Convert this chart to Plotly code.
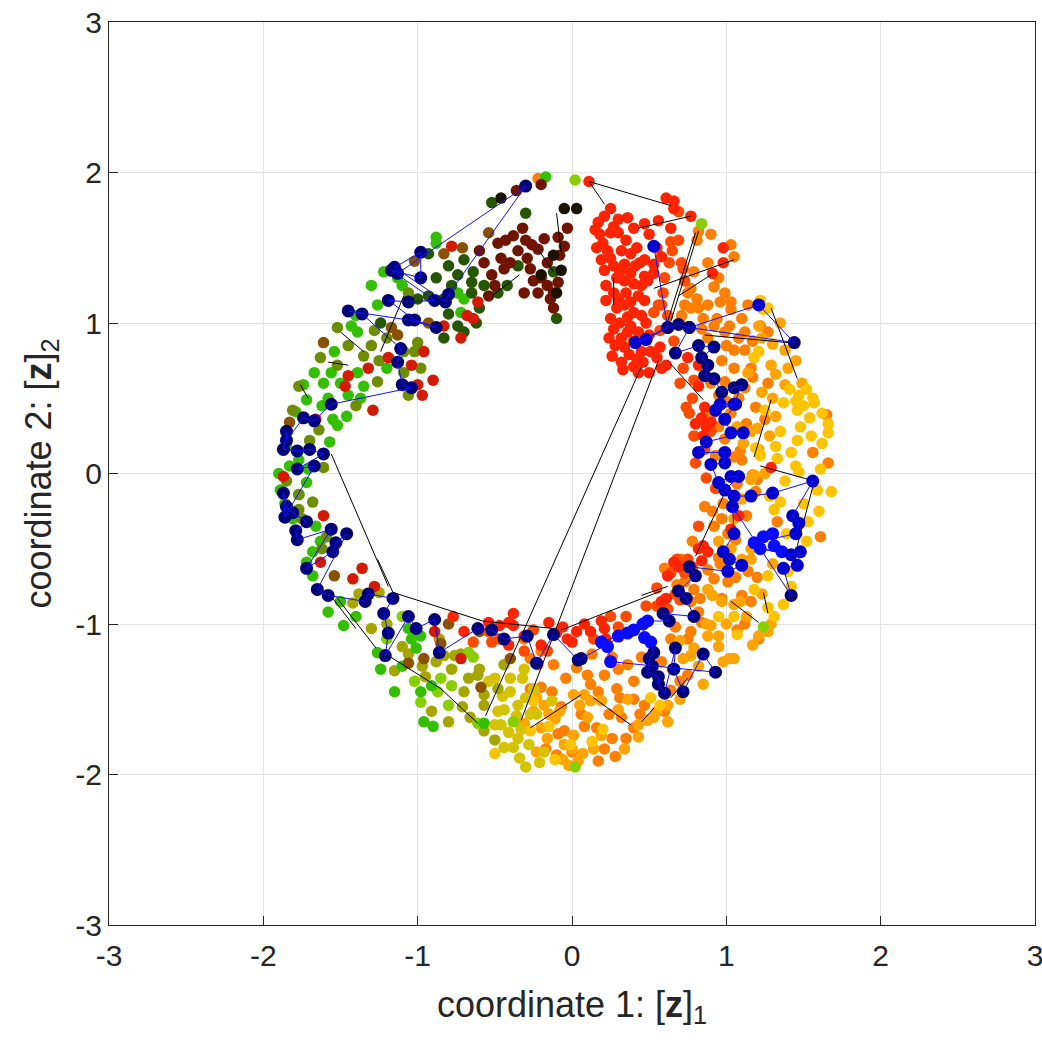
import plotly.graph_objects as go

# coloured latent points, grouped by colour class (x, y)
red_pts = [(0.11,1.94),(0.25,1.76),(0.21,1.71),(0.17,1.67),(0.30,1.69),(0.27,1.64),(0.18,1.59),(0.25,1.60),
    (0.30,1.60),(0.40,1.63),(0.47,1.66),(0.50,1.59),(0.61,1.83),(0.66,1.81),(0.66,1.76),(0.77,1.71),(0.64,1.63),
    (0.98,1.50),(0.91,1.33),(0.98,1.40),(0.58,1.44),(0.53,1.39),(0.47,1.42),(0.38,1.46),(0.32,1.48),(0.23,1.48),
    (0.25,1.43),(0.21,1.35),(0.27,1.38),(0.34,1.39),(0.41,1.38),(0.47,1.31),(0.53,1.33),(0.29,1.30),(0.34,1.28),
    (0.40,1.26),(0.45,1.25),(0.49,1.28),(0.27,1.20),(0.35,1.20),(0.43,1.18),(0.47,1.15),(0.29,1.10),(0.34,1.12),
    (0.40,1.07),(0.25,1.03),(0.31,1.00),(0.36,1.04),(0.27,0.96),(0.32,0.90),(0.36,0.94),(0.43,0.94),(0.50,0.92),
    (0.34,0.84),(0.37,0.79),(0.32,0.74),(0.33,0.69),(0.40,0.71),(0.46,0.74),(0.45,0.81),(0.51,0.81),(0.43,0.67),
    (0.58,0.70),(0.61,0.72),(0.82,0.58),(0.82,0.72),(0.75,0.77),(0.84,0.37),(0.87,0.31),(0.85,0.25),(0.80,0.33),
    (0.90,0.34),(1.29,0.04),(1.03,-0.37),(1.08,-0.28),(0.82,-0.50),(0.85,-0.48),(0.88,-0.52),(0.66,-0.59),
    (0.62,-0.68),(0.61,-0.83),(0.58,-0.85),(0.69,-0.62),(0.84,-0.58),(0.03,-1.05),(0.12,-1.05),(0.21,-1.03),
    (0.22,-1.10),(-0.03,-1.10),(0.00,-1.12),(-0.77,-0.95),(-0.70,-1.05),(-0.54,-0.99),(-0.47,-1.01),
    (-0.41,-0.99),(-0.38,-0.93),(-0.38,-1.01),(-0.41,-1.14),(-0.31,-1.08),(-0.20,-1.14),(-0.10,-1.06),
    (-0.15,-0.99),(0.19,-0.98),(0.08,-1.00),(-0.06,-1.02),(0.20,1.53),(0.15,1.62),(0.35,1.55),(0.42,1.50),
    (0.38,1.33),(0.22,1.25),(0.30,1.16),(0.45,1.05),(0.38,0.98),(0.28,0.85),(0.40,0.88),(0.26,0.78),(0.50,0.67),
    (0.55,0.77),(0.44,1.40),(0.55,1.50),(0.36,1.70),(0.56,1.68),(0.22,1.15),(0.48,1.00),(0.86,0.44),
    (0.19,1.42),(0.31,1.34),(0.38,1.14),(0.24,0.90),(0.42,0.76),(0.57,0.84),(0.16,1.50)]
darkred_mix_pts = [(-0.83,0.98),(-0.72,0.90),(-0.96,0.81),(-1.19,0.77),(-1.32,0.70),(-1.45,0.65),(-1.04,0.72),
    (-1.00,0.59),(-0.97,0.52),(-0.64,1.03),(-0.61,1.14),(-0.78,1.51),(-1.87,-0.02),(-1.61,-0.28),(-1.63,-0.59),
    (-1.42,-0.70),(-1.66,0.36),(-1.29,0.42),(-1.28,-0.75),(-1.47,0.58),(-0.89,-1.05),(-0.72,-1.23),
    (-0.68,1.05),(-0.90,0.62),(-1.36,-0.63)]
redorange_pts = [(0.69,1.74),(0.69,1.55),(0.64,1.54),(0.65,1.48),(0.71,1.40),(0.72,1.36),(0.73,1.28),(0.56,1.12),
    (0.59,1.20),(0.53,1.07),(0.58,1.12),(0.62,1.05),(-0.64,-1.12),(-0.52,-1.12),(-0.47,-1.10),(-0.54,-1.05),
    (-0.31,-1.18),(-0.16,-1.18),(0.68,-0.57),(0.71,-0.60),(0.75,-0.57),(0.73,-0.66),(0.67,-0.80),(0.70,-0.84),
    (0.62,-0.90),(0.55,-0.88),(0.74,0.44),(0.79,0.25),(0.86,0.16),(0.80,0.07),(0.87,-0.03),(0.93,-0.10),
    (0.90,0.28),(0.78,0.50),(0.79,0.62),(0.70,0.60),(0.14,-1.10),(0.30,-1.02),(-0.25,-1.04),(0.60,1.30),
    (0.63,1.40),(0.57,0.95),(0.66,0.88),(0.72,0.70),(0.76,0.40),(0.82,-0.35),(0.78,-0.62),(0.64,-0.66),
    (0.55,-0.76),(0.48,-0.88),(0.35,-0.95),(0.25,-0.95)]
orange_pts = [(0.82,1.61),(0.90,1.59),(1.03,1.52),(1.05,1.44),(0.81,1.55),(0.77,1.23),(0.75,1.20),(0.81,1.16),
    (0.73,1.12),(0.77,1.10),(0.82,1.10),(0.85,1.03),(0.71,1.05),(0.70,1.00),(0.84,0.96),(0.94,1.03),(0.96,1.14),
    (0.99,1.20),(1.03,1.14),(1.03,1.09),(1.14,1.12),(1.22,0.98),(1.27,0.94),(1.12,0.94),(1.08,0.90),(1.12,0.82),
    (1.05,0.82),(0.99,0.94),(0.97,0.75),(1.05,0.70),(1.16,0.70),(1.27,0.60),(1.17,0.64),(1.12,0.57),(0.99,0.61),
    (0.95,0.52),(1.00,0.48),(1.03,0.40),(0.90,0.38),(0.95,0.31),(0.99,0.23),(1.05,0.11),(1.09,0.15),(1.10,0.09),
    (1.19,0.44),(1.25,0.36),(1.19,-0.12),(1.17,-0.01),(1.07,-0.07),(1.20,-0.04),(1.33,-0.32),(1.61,-0.42),
    (1.06,-0.44),(0.92,-0.35),(0.95,-0.56),(0.96,-0.60),(0.71,-0.57),(0.73,-0.72),(0.68,-0.74),(0.79,-0.77),
    (0.83,-0.83),(0.77,-0.85),(0.82,-0.92),(0.84,-0.99),(0.97,-0.83),(1.07,-1.04),(1.56,0.14),(1.66,0.07),
    (1.65,0.39),(-0.04,-1.36),(0.03,-1.29),(0.10,-1.34),(0.17,-1.45),(0.21,-1.34),(0.29,-1.43),(0.31,-1.49),
    (0.40,-1.38),(0.47,-1.54),(0.64,-1.44),(0.44,-1.60),(0.40,-1.69),(0.35,-1.76),(0.24,-1.60),(0.16,-1.69),
    (0.26,-1.76),(0.21,-1.83),(-0.05,-1.71),(0.75,-1.34),(0.75,-1.10),(0.64,-1.10),(0.67,-1.02),(1.01,-0.72),
    (1.06,-0.69),(1.14,-0.65),(1.10,-0.81),(1.21,-1.10),(1.20,-0.69),(-0.31,-1.10),(-0.20,-1.18),(-0.22,-1.27),
    (-0.27,-1.23),(-0.12,-1.27),(-0.27,-1.43),(-0.20,-1.42),(-0.09,-1.73),(-0.17,-1.83),(-0.10,-1.87),
    (0.00,-1.85),(-0.22,1.96),(0.92,0.98),(0.88,0.90),(0.58,-1.25),(0.36,-1.27),(0.30,-1.30),(0.13,-1.20),
    (0.86,-0.22),(0.91,-0.25),(0.97,-0.30),(0.78,-0.45),(0.60,-0.63),(0.88,1.40),(0.92,1.24),(0.88,1.12),
    (0.79,1.34),(1.10,1.03),(1.17,0.88),(1.02,0.98),(0.90,0.60),(1.08,0.50),(0.93,0.12),(1.13,-0.28),
    (1.01,-0.40),(0.88,-0.64),(0.92,-0.70),(0.77,-1.05),(0.60,-1.58),(0.32,-1.62),(0.12,-1.40),(0.06,-1.60),
    (0.28,-1.88),(0.17,-1.91),(-0.13,-1.45),(0.45,-1.22),(0.40,-1.50),(0.70,-1.38),(1.16,-0.85),(1.12,-1.00),
    (0.95,1.30),(1.00,0.85),(1.13,0.33),(0.98,-0.20),(0.26,-1.22),(0.08,-1.68),(-0.07,-1.55)]
amber_pts = [(1.21,0.98),(1.23,0.90),(1.30,0.86),(1.38,0.82),(1.23,0.54),(1.14,0.67),(1.29,0.72),(1.38,0.59),
    (1.49,0.60),(1.32,0.66),(0.01,-1.47),(0.08,-1.47),(0.12,-1.51),(0.05,-1.54),(0.19,-1.51),(0.55,-1.58),
    (0.62,-1.54),(0.43,-1.67),(0.49,-1.64),(0.53,-1.62),(0.19,-1.74),(0.01,-1.74),(0.14,-1.83),(0.07,-1.86),
    (-0.02,-1.94),(0.04,-1.91),(0.72,-1.23),(0.77,-1.21),(0.79,-1.16),(0.70,-1.11),(0.87,-1.00),(0.90,-1.01),
    (0.88,-1.08),(0.95,-1.08),(1.00,-1.00),(0.98,-1.25),(1.02,-1.23),(1.05,-1.23),(0.97,-0.85),(0.91,-0.81),
    (0.88,-0.77),(1.09,-0.85),(1.05,-0.87),(1.17,-1.14),(1.21,-1.08),(1.27,-1.05),(1.29,-1.00),(1.10,-0.17),
    (1.16,-0.04),(1.18,-0.01),(1.32,0.38),(1.21,0.16),(1.07,0.31),(1.11,0.20),(1.16,0.28),(1.16,-0.57),
    (1.10,-0.57),(1.03,-0.50),(0.95,-0.45),(1.16,-0.50),(1.05,-0.30),(-0.23,-1.49),(-0.18,-1.54),(-0.15,-1.60),
    (-0.11,-1.63),(-0.20,-1.69),(-0.16,-1.76),(-0.31,-1.66),(-0.25,-1.58),(0.00,-1.83),(-0.06,-1.90),
    (-0.23,-1.85),(0.30,-1.57),(0.36,-1.50),(0.10,-1.62),(0.65,-1.30),(0.82,-1.28),(1.13,-0.95),(1.30,0.50),
    (1.35,1.00),(1.40,0.70),(1.45,0.75),(1.20,0.30),(1.28,0.25),(1.25,0.00),(1.30,-0.60),(1.23,-0.80),
    (0.34,-1.83),(0.43,-1.75),(0.62,-1.65),(0.70,-1.50),(0.95,-1.15),(0.85,-1.40),(-0.08,-1.58),(-0.05,-1.80)]
gold_pts = [(1.37,0.47),(1.46,0.42),(1.57,0.47),(1.66,0.33),(1.66,0.27),(1.46,0.22),(1.42,0.14),(1.61,0.03),
    (1.68,-0.12),(1.59,-0.11),(1.47,0.01),(1.35,-0.19),(1.31,-0.24),(1.53,-0.32),(1.42,-0.75),(1.27,-0.68),
    (1.18,-0.77),(1.27,-0.89),(1.31,-0.95),(1.41,0.56),(1.47,0.52),(1.52,0.56),(1.56,0.50),(1.45,0.48),
    (1.54,0.37),(1.48,0.31),(1.25,0.42),(1.19,0.17),(1.32,0.18),(1.22,0.12),(1.22,1.15),(1.24,1.09),
    (1.27,1.10),(1.21,0.81),(1.18,0.77),(0.95,-0.95),(1.05,-0.95),(1.37,-0.87),(0.57,-1.54),(0.51,-1.49),
    (-0.01,-1.80),(0.13,-1.78),(0.20,-1.70),(1.07,-1.07),(-0.50,-1.86),(-0.25,-1.51),(-0.15,-1.68),
    (-0.27,-1.71),(-0.11,-1.90),(1.39,-0.40),(1.50,-0.20),(1.62,0.20),(1.35,0.28),(1.40,-0.65),(1.50,0.45),
    (1.62,0.40),(1.55,0.25),(1.60,-0.25),(1.52,-0.45),(1.45,0.05),(1.38,-0.05),(1.28,-0.15),(1.33,0.10)]
yellow_pts = [(-0.54,-1.38),(-0.50,-1.36),(-0.46,-1.67),(-0.50,-1.67),(-0.44,-1.82),(-0.44,-1.57),(-0.31,-1.30),
    (-0.32,-1.36),(-0.30,-1.49),(-0.36,-1.61),(-0.35,-1.76),(-0.38,-1.82),(-0.34,-1.89),(-0.25,-1.43),
    (-0.13,-1.51),(-0.35,-1.54),(-0.41,-1.72),(-0.28,-1.80),(-0.23,-1.60),(-0.40,-1.36),(-0.30,-1.95),
    (-0.21,-1.92),(-0.40,-1.45),(-0.45,-1.48),(-0.27,-1.60),(-0.18,-1.85),(-0.33,-1.70),(-0.48,-1.58)]
olive_pts = [(-1.38,-0.80),(-1.42,-0.86),(-1.25,-0.79),(-1.30,-1.03),(-1.15,-1.31),(-0.97,-1.28),(-0.91,-1.58),
    (-0.71,-1.55),(-0.67,-1.36),(-0.61,-1.34),(-0.57,-1.47),(-0.57,-1.71),(-0.50,-1.77),(-0.83,-1.21),
    (-0.76,-1.21),(-0.72,-1.20),(-0.48,-1.43),(-0.44,-1.27),(-0.60,-1.30),(-1.10,-1.15),(-1.06,-1.20),
    (-0.86,-1.10),(-0.57,-1.54),(-0.66,-1.62),(-0.78,-1.30),(-1.20,-1.00),(-0.95,-1.35),(-0.80,-1.65),
    (-0.70,-1.45),(-0.88,-1.25)]
olivegreen_pts = [(-1.06,1.20),(-1.00,0.87),(-1.02,0.81),(-1.52,0.97),(-1.45,0.85),(-1.30,0.85),(-1.63,0.77),
    (-1.26,0.61),(-1.09,0.67),(-1.06,0.52),(-1.09,0.81),(-1.77,0.58),(-1.81,0.42),(-1.64,0.29),(-1.68,-0.19),
    (-1.77,-0.24),(-1.59,-0.42),(-1.61,0.04),(-1.77,-0.14),(-1.20,0.90),(-1.35,0.78),(-1.52,0.72),(-0.98,0.70),
    (-1.62,-0.50),(-1.85,-0.05),(-1.70,0.22),(-1.40,0.45),(-1.25,0.75),(-1.28,0.95),(-1.75,-0.30)]
brown_pts = [(-1.54,-0.68),(-1.06,-1.26),(-0.96,-1.23),(-0.59,-1.42),(-1.02,1.41),(-0.71,1.50),(-0.83,1.46),
    (-0.54,1.60),(-1.61,0.87),(-1.13,0.92),(-1.17,0.97),(-1.83,0.34),(-0.40,-1.23),(-0.80,-1.00),(-0.85,-1.13),
    (-0.60,-1.05),(-0.93,1.00)]
yellowgreen_pts = [(-1.02,-1.38),(-0.85,-1.36),(-0.78,-1.41),(-0.87,-1.45),(-0.80,-1.54),(-0.64,-1.22),
    (-0.67,-1.19),(-0.61,-1.66),(-0.38,-1.65),(0.02,-1.95),(0.02,1.95),(0.84,1.66),(1.24,-1.02),(-1.20,-1.10),
    (-0.98,-1.52),(-1.10,-0.95)]
green_pts = [(-1.26,-1.19),(-1.24,-1.30),(-1.10,-1.28),(-1.15,-1.45),(-1.04,-1.10),(-0.98,-1.08),(-0.98,-1.45),
    (-0.91,-1.41),(-0.96,-1.65),(-0.90,-1.68),(-0.57,-1.66),(-1.01,-1.16),(-1.06,-1.03),(-1.48,-1.01),
    (-1.89,-0.11),(-1.77,-0.14),(-1.72,-0.06),(-1.81,-0.30),(-1.72,-0.59),(-1.68,-0.68),(-1.85,0.18),
    (-1.77,0.09),(-1.71,0.03),(-1.57,0.21),(-1.55,0.36),(-1.72,0.49),(-1.61,0.60),(-1.46,0.38),(-1.52,0.32),
    (-1.74,0.59),(-1.79,0.41),(-0.88,1.57),(-0.88,1.53),(-1.13,1.30),(-1.22,1.34),(-1.30,1.25),(-1.26,1.12),
    (-1.39,0.94),(-1.43,0.98),(-1.54,0.81),(-1.39,0.67),(-1.56,0.67),(-1.58,0.50),(-1.45,0.52),(-1.37,0.50),
    (-1.67,0.67),(-0.74,1.20),(-0.70,1.16),(-0.72,1.07),(-0.17,1.97),(-1.66,-0.35),(-1.63,-0.45),(-1.58,-0.92),
    (-1.86,-0.20),(-1.50,0.60),(-1.20,0.70),(-1.90,0.00),(-1.83,0.05),(-1.68,-0.52),(-1.50,-0.85),
    (-1.40,-0.95),(-1.62,0.45),(-1.35,0.58),(-1.10,1.25),(-1.40,1.05)]
darkgreen_pts = [(-0.52,1.80),(-0.30,1.73),(-0.65,1.27),(-0.57,1.25),(-0.48,1.20),(-0.64,1.34),(-0.35,1.38),
    (-0.88,1.30),(-0.93,1.46),(-0.93,1.18),(-1.24,1.00),(-0.83,0.90),(-0.83,1.16),(-0.74,1.32),(-0.10,1.03),
    (-0.12,1.34),(-0.70,0.94),(-0.65,1.20),(-1.00,1.16),(-0.74,0.98),(-0.60,1.10),(-0.80,1.06),(-0.80,1.38),
    (-0.70,1.42),(-0.62,1.00),(-0.78,1.25),(-0.42,1.25)]
darkred_pts = [(-0.36,1.88),(-0.20,1.92),(-0.03,1.63),(-0.05,1.51),(-0.32,1.63),(-0.48,1.53),(-0.38,1.58),
    (-0.43,1.55),(-0.22,1.49),(-0.09,1.57),(-0.16,1.40),(-0.29,1.43),(-0.40,1.40),(-0.46,1.43),(-0.57,1.40),
    (-0.52,1.32),(-0.44,1.36),(-0.27,1.36),(-0.16,1.25),(-0.22,1.20),(-0.31,1.20),(-0.14,1.16),(-0.12,1.10),
    (-0.54,1.18),(-0.09,1.27),(-0.20,1.30),(-0.26,1.52),(-0.60,1.48),(-0.35,1.48),(-0.25,1.28),(-0.08,1.45),
    (-0.18,1.56),(-0.50,1.25),(-0.30,1.55),(-0.12,1.20)]
black_pts = [(-0.46,1.83),(-0.05,1.76),(0.03,1.76),(-0.20,1.32),(-0.07,1.35),(-0.10,1.20),(-0.12,1.45)]

# black trajectory, pieces separated by None
black_path = [(0.11,1.94),(0.64,1.78),None,(0.11,1.94),(0.21,1.79),None,(0.43,1.63),(0.77,1.71),None,
    (0.82,1.61),(0.64,1.01),None,(0.80,1.60),(0.62,1.01),None,(0.53,1.23),(1.05,1.42),None,(0.69,1.18),
    (0.90,1.32),None,(0.27,1.30),(0.27,1.12),None,(1.29,1.10),(1.46,0.63),None,(0.86,0.92),(1.40,0.87),None,
    (0.45,0.71),(-0.56,-1.61),None,(0.56,0.75),(-0.33,-1.64),None,(0.62,0.75),(0.85,0.49),None,(1.29,0.49),
    (1.18,0.11),None,(1.22,0.05),(1.57,-0.05),(1.46,-0.48),None,(0.98,-0.15),(0.80,-0.55),None,(0.45,-0.81),
    (0.62,-0.75),None,(1.03,-0.85),(1.21,-0.99),None,(-0.07,-1.04),(0.58,-0.78),None,(1.24,-0.79),(1.27,-0.93),
    None,(0.14,-1.49),(0.38,-1.67),None,(0.45,-1.65),(0.53,-1.56),None,(0.64,-1.49),(0.75,-1.36),None,
    (-1.26,-0.57),(-1.16,-0.79),(-0.58,-0.98),(-0.12,-1.03),None,(-1.52,-0.83),(-1.27,-1.16),None,
    (-1.19,-1.21),(-0.85,-1.43),(-0.61,-1.66),None,(-0.27,-1.69),(0.06,-1.47),None,(-1.56,0.13),(-1.19,-0.75),
    None,(-1.55,-0.83),(-1.40,-1.03),None,(-0.10,1.73),(-0.07,1.47),None,(-0.22,1.49),(-0.12,1.34),None,
    (-0.52,1.18),(-0.34,1.32),None,(-1.09,1.18),(-1.24,0.81),None,(-1.50,0.94),(-1.35,0.81),None,(-1.58,0.74),
    (-1.45,0.72),None,(-1.76,0.59),(-1.71,0.50)]

# blue trajectory and its tone class (0 navy, 1 blue, 2 bright blue)
blue_path = [(0.53,1.51),(0.62,0.97),(0.48,0.89),(0.41,0.87),(0.62,0.97),(0.69,0.99),(0.76,0.97),(1.21,1.12),
    (1.44,0.87),(0.76,0.97),(0.67,0.80),(0.82,0.85),(0.92,0.84),(0.84,0.77),(0.88,0.72),(0.86,0.65),
    (0.92,0.63),(0.97,0.54),(1.05,0.57),(1.10,0.59),(1.05,0.46),(0.96,0.46),(0.93,0.42),(1.06,0.46),(0.99,0.36),
    (1.03,0.27),(1.11,0.27),(0.87,0.21),(0.82,0.14),(0.99,0.14),(0.99,0.07),(0.90,0.06),(0.95,-0.06),
    (1.03,-0.02),(1.08,-0.02),(0.99,-0.11),(1.05,-0.15),(1.16,-0.15),(1.30,-0.13),(1.56,-0.05),(1.43,-0.28),
    (1.47,-0.33),(1.45,-0.40),(1.18,-0.46),(1.24,-0.42),(1.30,-0.40),(1.31,-0.48),(1.36,-0.52),(1.22,-0.50),
    (1.42,-0.54),(1.48,-0.52),(1.46,-0.61),(1.37,-0.63),(1.42,-0.81),(1.04,-0.22),(1.05,-0.40),(0.98,-0.52),
    (1.02,-0.57),(1.10,-0.61),(1.01,-0.65),(0.76,-0.62),(0.80,-0.68),(0.69,-0.78),(0.74,-0.83),(0.79,-0.95),
    (0.59,-0.93),(0.63,-0.98),(0.49,-0.98),(0.40,-1.04),(0.46,-1.00),(0.47,-1.09),(0.51,-1.12),(0.53,-1.19),
    (0.50,-1.23),(0.49,-1.32),(0.56,-1.35),(0.56,-1.40),(0.60,-1.46),(0.67,-1.16),(0.66,-1.30),(0.72,-1.45),
    (0.85,-1.20),(0.93,-1.32),(0.52,-1.28),(0.25,-1.25),(0.23,-1.15),(0.19,-1.12),(0.30,-1.08),(0.36,-1.06),
    (0.06,-1.23),(0.04,-1.24),(-0.12,-1.07),(-0.23,-1.26),(-0.29,-1.08),(-0.44,-1.10),(-0.52,-1.04),
    (-0.61,-1.03),(-0.86,-1.19),(-0.89,-0.97),(-1.01,-1.03),(-1.06,-0.95),(-1.21,-1.21),(-1.19,-1.06),
    (-1.22,-0.93),(-1.16,-0.83),(-1.32,-0.80),(-1.34,-0.85),(-1.58,-0.81),(-1.65,-0.77),(-1.46,-0.40),
    (-1.53,-0.46),(-1.55,-0.52),(-1.72,-0.63),(-1.56,-0.37),(-1.78,-0.44),(-1.79,-0.38),(-1.72,-0.32),
    (-1.81,-0.26),(-1.85,-0.22),(-1.87,-0.13),(-1.86,-0.29),(-1.67,0.05),(-1.78,0.03),(-1.61,0.13),
    (-1.70,0.16),(-1.78,0.15),(-1.87,0.16),(-1.85,0.28),(-1.85,0.22),(-1.74,0.37),(-1.67,0.35),(-1.56,0.46),
    (-1.04,0.57),(-1.10,0.59),(-1.13,0.74),(-1.11,0.83),(-1.36,1.06),(-1.45,1.08),(-1.06,1.02),(-0.88,0.97),
    (-1.02,1.02),(-1.19,1.15),(-1.06,1.14),(-0.89,1.15),(-1.17,1.35),(-0.98,1.30),(-0.98,1.47),(-1.15,1.37),
    (-0.82,1.14),(-0.80,1.19),(-0.30,1.91),(-1.13,1.33)]
blue_tone = [1,0,1,1,0,0,0,1,0,0,0,0,0,0,0,0,
    0,0,0,0,0,1,1,1,1,
    1,1,1,1,1,1,1,1,
    1,1,1,1,1,1,1,1,
    1,1,2,2,2,2,2,2,
    1,1,1,1,0,1,1,1,
    1,1,1,0,0,0,0,0,
    0,0,2,2,2,2,2,0,
    0,0,0,0,0,0,0,0,
    0,0,0,2,2,2,2,2,
    0,0,0,0,0,0,0,
    0,0,0,0,0,0,0,
    0,0,0,0,0,0,0,
    0,0,0,0,0,0,0,0,
    0,0,0,0,0,0,0,
    0,0,0,0,0,0,0,0,
    0,0,0,0,0,0,0,0,
    0,0,0,0,0,0,0,0,
    0,0,0,0]

tick_vals = [-3, -2, -1, 0, 1, 2, 3]
tick_text = ['-3', '-2', '-1', '0', '1', '2', '3']

groups = [
    (orange_pts, '#ff7f00'), (amber_pts, '#ffa400'), (gold_pts, '#ffc400'), (yellow_pts, '#d6c300'),
    (olive_pts, '#a6a600'), (yellowgreen_pts, '#86d000'), (green_pts, '#34c000'), (olivegreen_pts, '#6f8d00'),
    (brown_pts, '#8a5200'), (darkgreen_pts, '#265600'), (darkred_pts, '#701400'), (black_pts, '#1c1200'),
    (redorange_pts, '#ff4a00'), (red_pts, '#ff2400'), (darkred_mix_pts, '#d41a00'),
]
tone_colors = {0: '#000078', 1: '#0000c8', 2: '#0a0aff'}

fig = go.Figure()
for pts, col in groups:
    fig.add_trace(go.Scatter(x=[p[0] for p in pts], y=[p[1] for p in pts], mode='markers',
                             marker=dict(size=11.5, color=col, line=dict(width=0)), hoverinfo='skip'))

fig.add_trace(go.Scatter(x=[p[0] if p else None for p in black_path],
                         y=[p[1] if p else None for p in black_path],
                         mode='lines', line=dict(color='black', width=1), connectgaps=False))

fig.add_trace(go.Scatter(x=[p[0] for p in blue_path], y=[p[1] for p in blue_path], mode='markers',
                         marker=dict(size=13, color=[tone_colors[t] for t in blue_tone], line=dict(width=0))))
fig.add_trace(go.Scatter(x=[p[0] for p in blue_path], y=[p[1] for p in blue_path], mode='lines',
                         line=dict(color='#1010ff', width=1)))

font_main = 'Liberation Sans, Arial, sans-serif'
axis_style = dict(range=[-3, 3], tickvals=tick_vals, ticktext=tick_text, showgrid=True, gridcolor='#e3e3e3',
                  gridwidth=1, zeroline=False, showline=True, mirror=True, linecolor='#262626', linewidth=1,
                  ticks='inside', ticklen=9, tickcolor='#262626', automargin=False, ticklabeloverflow='allow',
                  tickfont=dict(size=30, color='#262626', family=font_main))

fig.update_layout(
    width=1042, height=1042, showlegend=False,
    plot_bgcolor='white', paper_bgcolor='white',
    margin=dict(l=109, r=7, t=22, b=117),
    xaxis=dict(axis_style, ticklabelstandoff=4,
               title=dict(text='coordinate 1: [<b>z</b>]<sub>1</sub>', standoff=20,
                          font=dict(size=36, color='#262626', family=font_main))),
    yaxis=dict(axis_style,
               title=dict(text='coordinate 2: [<b>z</b>]<sub>2</sub>', standoff=12,
                          font=dict(size=36, color='#262626', family=font_main))),
)

# drop the default page margin so the 1042px figure fills the window exactly
fig.write_html("out.html", config={'displayModeBar': False},
               post_script="document.body.style.margin='0';document.body.style.overflow='hidden';")
